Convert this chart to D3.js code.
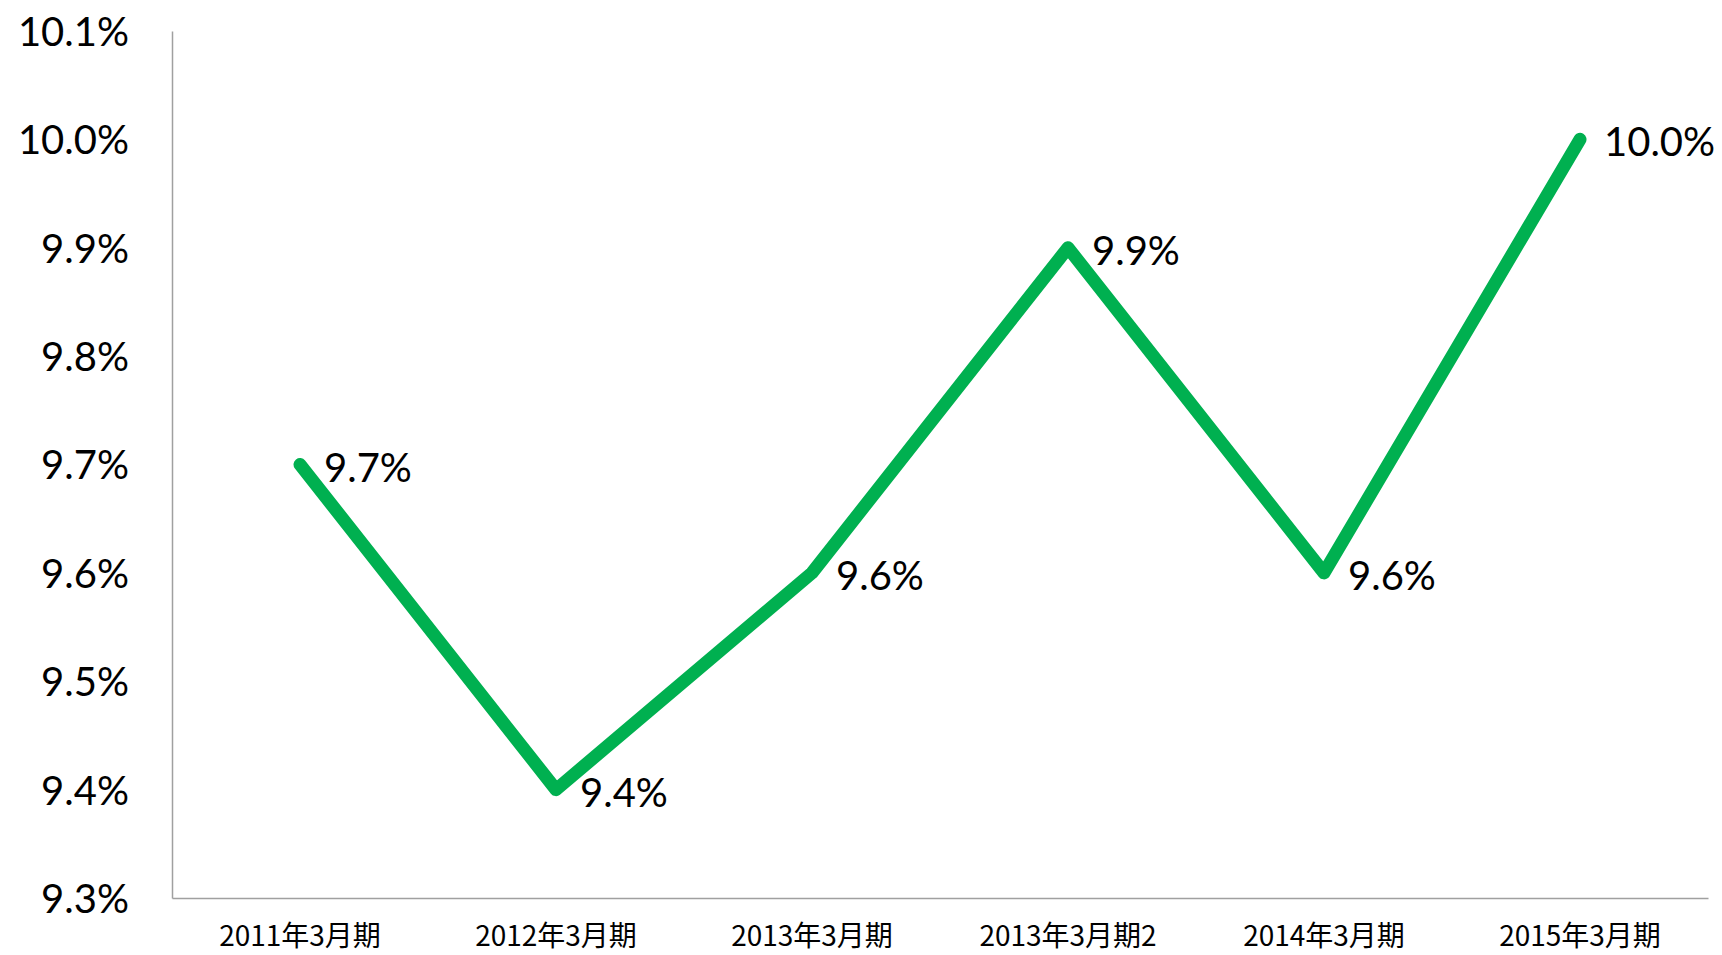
<!DOCTYPE html>
<html>
<head>
<meta charset="utf-8">
<script src="https://cdn.jsdelivr.net/npm/d3@7"></script>
<style>
  body { margin: 0; background: #fff; }
  svg { display: block; }
</style>
</head>
<body>
<svg id="chart" width="1722" height="955"></svg>
<script>
var categories = ['2011年3月期', '2012年3月期', '2013年3月期', '2013年3月期2', '2014年3月期', '2015年3月期'];
var values = [9.7, 9.4, 9.6, 9.9, 9.6, 10.0];
var yTicks = [9.3, 9.4, 9.5, 9.6, 9.7, 9.8, 9.9, 10.0, 10.1];

var svg = d3.select('#chart');
var plotLeft = 172, plotRight = 1708, plotTop = 31, plotBottom = 898;

var x = d3.scaleBand()
  .domain(categories)
  .range([plotLeft, plotRight]);

var y = d3.scaleLinear()
  .domain([9.3, 10.1])
  .range([plotBottom, plotTop]);

// y axis
var yAxis = svg.append('g')
  .attr('transform', 'translate(' + plotLeft + ',0)')
  .call(d3.axisLeft(y).tickValues(yTicks).tickSize(0).tickPadding(43)
    .tickFormat(function(d) { return d.toFixed(1) + '%'; }))
yAxis.select('.domain').attr('stroke', '#a0a0a0').attr('stroke-width', 1.5)
yAxis.selectAll('text')
  .attr('font-family', 'Lato, sans-serif')
  .attr('font-size', 40)
  .attr('fill', '#000')
  .attr('dy', '0.36em')

// x axis
var xAxis = svg.append('g')
  .attr('transform', 'translate(0,' + plotBottom + ')')
  .call(d3.axisBottom(x).tickSize(0).tickPadding(24))
xAxis.select('.domain').attr('stroke', '#a0a0a0').attr('stroke-width', 1.5)
xAxis.selectAll('text')
  .attr('font-family', '"Noto Sans CJK JP", sans-serif')
  .attr('font-size', 28)
  .attr('fill', '#000')
  .attr('dy', '0.85em')

// line
var line = d3.line()
  .x(function(d, i) { return x(categories[i]) + x.bandwidth() / 2; })
  .y(function(d) { return y(d); })

svg.append('path')
  .datum(values)
  .attr('d', line)
  .attr('fill', 'none')
  .attr('stroke', '#00b050')
  .attr('stroke-width', 13)
  .attr('stroke-linecap', 'round')
  .attr('stroke-linejoin', 'round')

// data labels
svg.selectAll('.label')
  .data(values)
  .enter().append('text')
  .attr('class', 'label')
  .attr('x', function(d, i) { return x(categories[i]) + x.bandwidth() / 2 + 24; })
  .attr('y', function(d) { return y(d) + 17; })
  .attr('font-family', 'Lato, sans-serif')
  .attr('font-size', 40)
  .attr('fill', '#000')
  .text(function(d) { return d.toFixed(1) + '%'; })
</script>
</body>
</html>
